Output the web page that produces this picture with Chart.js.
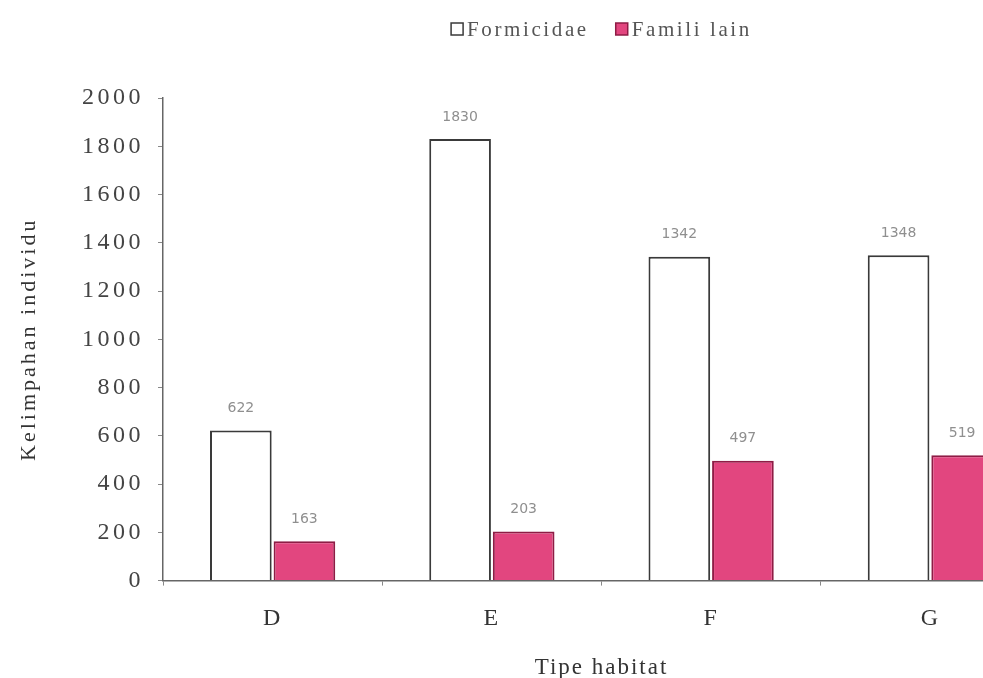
<!DOCTYPE html>
<html>
<head>
<meta charset="utf-8">
<script src="https://cdn.jsdelivr.net/npm/chart.js@4"></script>
<style>
  html, body { margin: 0; padding: 0; background: #fff; overflow: hidden; }
  #wrap { width: 983px; height: 678px; overflow: hidden; }
</style>
</head>
<body>
<div id="wrap"><canvas id="myChart" width="1200" height="682"></canvas></div>
<script>
var habitats = ["D", "E", "F", "G"];
var formicidae = [622, 1830, 1342, 1348];
var familiLain = [163, 203, 497, 519];
var yTicks = [0, 200, 400, 600, 800, 1000, 1200, 1400, 1600, 1800, 2000];

var serif = "'Liberation Serif', 'DejaVu Serif', serif";

// the scanned original has wide, stretched lettering
var spacing = {
  x: { labels: "2px", title: "2px" },
  y: { labels: "3.5px", title: "3px" },
};

function withSpacing(ctx, sp, fn) {
  var prev = ctx.letterSpacing;
  ctx.letterSpacing = sp;
  fn();
  ctx.letterSpacing = prev;
}

var letterSpacing = {
  id: "letterSpacing",
  beforeDraw(chart) {
    Object.values(chart.scales).forEach((scale) => {
      var sp = spacing[scale.id];
      if (!sp || scale._spaced) return;
      var dl = scale.drawLabels;
      var dt = scale.drawTitle;
      scale.drawLabels = function (a) {
        withSpacing(this.ctx, sp.labels, () => dl.call(this, a));
      };
      scale.drawTitle = function (a) {
        withSpacing(this.ctx, sp.title, () => dt.call(this, a));
      };
      scale._spaced = true;
    });
  },
};

// value labels above bars
var valueLabels = {
  id: "valueLabels",
  afterDatasetsDraw(chart) {
    var ctx = chart.ctx;
    ctx.save();
    ctx.font = "14px 'DejaVu Sans', sans-serif";
    ctx.fillStyle = "#8f8f8f";
    ctx.textAlign = "center";
    ctx.textBaseline = "middle";
    chart.data.datasets.forEach((ds, i) => {
      chart.getDatasetMeta(i).data.forEach((bar, j) => {
        ctx.fillText(ds.data[j], bar.x, bar.y - 22);
      });
    });
    ctx.restore();
  },
};

// legend drawn by hand, centred over the plot area
var topLegend = {
  id: "topLegend",
  afterDraw(chart) {
    var ctx = chart.ctx;
    var box = 12, gap = 4, itemGap = 27, y = 29;
    ctx.save();
    ctx.font = "21px " + serif;
    ctx.letterSpacing = "2.6px";
    ctx.textBaseline = "middle";
    var items = chart.data.datasets.map((ds) => ({
      ds: ds,
      w: ctx.measureText(ds.label).width,
    }));
    var total = items.reduce((s, it) => s + box + gap + it.w, 0) + itemGap * (items.length - 1);
    var x = (chart.chartArea.left + chart.chartArea.right) / 2 - total / 2;
    items.forEach((it) => {
      ctx.fillStyle = it.ds.backgroundColor;
      ctx.fillRect(x, y - box / 2, box, box);
      ctx.strokeStyle = it.ds.borderColor;
      ctx.lineWidth = 1.5;
      ctx.strokeRect(x, y - box / 2, box, box);
      ctx.fillStyle = "#555";
      ctx.fillText(it.ds.label, x + box + gap, y + 1);
      x += box + gap + it.w + itemGap;
    });
    ctx.restore();
  },
};

var ctx = document.getElementById("myChart").getContext("2d");
var myChart = new Chart(ctx, {
  type: "bar",
  data: {
    labels: habitats,
    datasets: [
      {
        label: "Formicidae",
        data: formicidae,
        backgroundColor: "#ffffff",
        borderColor: "#3a3a3a",
        borderWidth: 2,
        borderSkipped: "bottom",
      },
      {
        label: "Famili lain",
        data: familiLain,
        backgroundColor: "#e2467f",
        borderColor: "#8e1c45",
        borderWidth: 2,
        borderSkipped: "bottom",
      },
    ],
  },
  options: {
    responsive: false,
    animation: false,
    categoryPercentage: 0.58,
    barPercentage: 0.97,
    layout: { padding: { left: 16, right: 160, top: 98, bottom: 0 } },
    plugins: {
      tooltip: { enabled: false },
      legend: { display: false },
    },
    scales: {
      x: {
        grid: {
          offset: true,
          drawOnChartArea: false,
          drawTicks: true,
          tickLength: 5,
          color: "#888",
        },
        border: { color: "#666", width: 1.5 },
        ticks: { font: { family: serif, size: 24 }, color: "#333", padding: 19 },
        title: {
          display: true,
          text: "Tipe habitat",
          font: { family: serif, size: 23 },
          color: "#333",
          padding: { top: 2, bottom: 0 },
        },
      },
      y: {
        min: 0,
        max: 2000,
        afterBuildTicks(axis) {
          axis.ticks = yTicks.map((v) => ({ value: v }));
        },
        afterFit(axis) {
          axis.width = 147;
        },
        grid: {
          drawOnChartArea: false,
          drawTicks: true,
          tickLength: 5,
          color: "#888",
        },
        border: { color: "#666", width: 1.5 },
        ticks: {
          font: { family: serif, size: 24 },
          color: "#444",
          padding: 14,
          callback: (v) => String(v),
        },
        title: {
          display: true,
          text: "Kelimpahan individu",
          font: { family: serif, size: 22 },
          color: "#333",
          padding: { top: 0, bottom: 8 },
        },
      },
    },
  },
  plugins: [letterSpacing, valueLabels, topLegend],
});
</script>
</body>
</html>
